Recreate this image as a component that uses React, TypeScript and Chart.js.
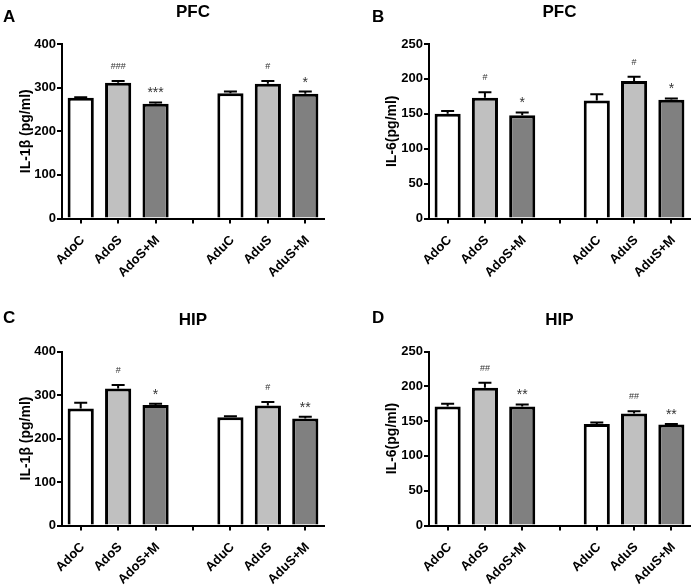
import React, { useEffect, useRef } from 'react';
import { Chart, registerables } from 'chart.js';

Chart.register(...registerables);

const FONT = "'Liberation Sans', Arial, Helvetica, sans-serif";

// groups on the x axis (the empty one is the gap between adolescent and adult)
const categories = ['AdoC', 'AdoS', 'AdoS+M', '', 'AduC', 'AduS', 'AduS+M'];

// A: PFC IL-1β
const pfcIl1b = [277, 311, 263, null, 287, 309, 286];
const pfcIl1bErr = [1, 4, 3, null, 4, 6, 5];
const pfcIl1bSig = ['', '###', '***', '', '', '#', '*'];

// B: PFC IL-6
const pfcIl6 = [150, 173, 148, null, 169, 197, 170];
const pfcIl6Err = [4, 8, 4, null, 9, 6, 2];
const pfcIl6Sig = ['', '#', '*', '', '', '#', '*'];

// C: HIP IL-1β
const hipIl1b = [269, 315, 277, null, 249, 276, 246];
const hipIl1bErr = [13, 8, 3, null, 2, 8, 4];
const hipIl1bSig = ['', '#', '*', '', '', '#', '**'];

// D: HIP IL-6
const hipIl6 = [171, 198, 171, null, 146, 161, 145];
const hipIl6Err = [4, 7, 3, null, 2, 3, 1];
const hipIl6Sig = ['', '##', '**', '', '', '##', '**'];

const il1bTicks = { max: 400, step: 100 };
const il6Ticks = { max: 250, step: 50 };

const barFill = ['#ffffff', '#c0c0c0', '#808080', '#ffffff', '#ffffff', '#c0c0c0', '#808080'];

interface PanelProps {
  left: number;
  top: number;
  width: number;
  height: number;
  area: { left: number; top: number; right: number; bottom: number };
  letter: string;
  letterPos: [number, number];
  title: string;
  titleBase: number;
  yTitle: string;
  yTitleX: number;
  yMax: number;
  yStep: number;
  values: (number | null)[];
  errs: (number | null)[];
  sig: string[];
}

function Panel(p: PanelProps) {
  const canvasRef = useRef<HTMLCanvasElement>(null);

  useEffect(() => {
    if (!canvasRef.current) return;
    const ctx = canvasRef.current.getContext('2d');
    if (!ctx) return;

    // upper error whiskers + significance marks
    const errorBars = {
      id: 'errorBars',
      afterDatasetsDraw(chart: any) {
        const c = chart.ctx;
        const y = chart.scales.y;
        const meta = chart.getDatasetMeta(0);
        c.save();
        p.values.forEach((v, i) => {
          if (v == null) return;
          const e = p.errs[i] || 0;
          const x = meta.data[i].x;
          const yv = y.getPixelForValue(v);
          const ye = y.getPixelForValue(v + e);
          c.strokeStyle = '#000';
          c.lineWidth = 2;
          c.beginPath();
          c.moveTo(x, yv);
          c.lineTo(x, ye);
          c.moveTo(x - 6.5, ye);
          c.lineTo(x + 6.5, ye);
          c.stroke();
          const s = p.sig[i];
          if (s) {
            c.fillStyle = '#333';
            c.textAlign = 'center';
            c.textBaseline = 'alphabetic';
            if (s[0] === '#') {
              c.font = `9px ${FONT}`;
              c.fillText(s, x, ye - 12);
            } else {
              c.font = `14px ${FONT}`;
              c.fillText(s, x, ye - 5);
            }
          }
        });
        c.restore();
      },
    };

    // panel letter and region title
    const panelText = {
      id: 'panelText',
      afterDraw(chart: any) {
        const c = chart.ctx;
        const a = chart.chartArea;
        c.save();
        c.fillStyle = '#000';
        c.font = `bold 17px ${FONT}`;
        c.textBaseline = 'alphabetic';
        c.textAlign = 'left';
        c.fillText(p.letter, p.letterPos[0], p.letterPos[1]);
        c.textAlign = 'center';
        c.fillText(p.title, (a.left + a.right) / 2, p.titleBase);
        c.restore();
      },
    };

    const chart = new Chart(ctx, {
      type: 'bar',
      data: {
        labels: categories,
        datasets: [
          {
            data: p.values,
            backgroundColor: barFill,
            borderColor: '#000',
            borderWidth: 3,
            barPercentage: 0.7,
            categoryPercentage: 1,
          },
        ],
      },
      options: {
        animation: false,
        responsive: true,
        maintainAspectRatio: false,
        layout: {
          padding: { left: 0, top: p.area.top, right: p.width - p.area.right, bottom: 0 },
        },
        plugins: {
          legend: { display: false },
          tooltip: { enabled: false },
          title: { display: false },
        },
        scales: {
          x: {
            grid: {
              display: true,
              drawOnChartArea: false,
              drawTicks: true,
              offset: false,
              tickLength: 5,
              color: '#000',
              lineWidth: 2,
            },
            border: { display: true, color: '#000', width: 2 },
            ticks: {
              autoSkip: false,
              minRotation: 45,
              maxRotation: 45,
              padding: 9,
              labelOffset: 2,
              color: '#000',
              font: { family: FONT, size: 13, weight: 'bold' },
            },
            afterFit: (scale: any) => {
              scale.height = p.height - p.area.bottom;
            },
          },
          y: {
            min: 0,
            max: p.yMax,
            grid: {
              display: true,
              drawOnChartArea: false,
              drawTicks: true,
              tickLength: 5,
              color: '#000',
              lineWidth: 2,
            },
            border: { display: true, color: '#000', width: 2 },
            ticks: {
              stepSize: p.yStep,
              padding: 1,
              color: '#000',
              font: { family: FONT, size: 13, weight: 'bold' },
            },
            title: {
              display: true,
              text: p.yTitle,
              color: '#000',
              font: { family: FONT, size: 14, weight: 'bold' },
              padding: { top: p.yTitleX - 8.4, bottom: 0 },
            },
            afterFit: (scale: any) => {
              scale.width = p.area.left;
            },
          },
        },
      },
      plugins: [errorBars, panelText],
    } as any);

    return () => {
      chart.destroy();
    };
  }, []);

  return (
    <div style={{ position: 'absolute', left: p.left, top: p.top, width: p.width, height: p.height }}>
      <canvas ref={canvasRef} />
    </div>
  );
}

export default function App() {
  return (
    <div style={{ position: 'fixed', left: 0, top: 0, width: 697, height: 586, background: '#fff', overflow: 'hidden' }}>
      <Panel
        left={0}
        top={0}
        width={348}
        height={293}
        area={{ left: 62, top: 44, right: 324, bottom: 218.5 }}
        letter="A"
        letterPos={[3, 22]}
        title="PFC"
        titleBase={17}
        yTitle="IL-1β (pg/ml)"
        yTitleX={26}
        yMax={il1bTicks.max}
        yStep={il1bTicks.step}
        values={pfcIl1b}
        errs={pfcIl1bErr}
        sig={pfcIl1bSig}
      />
      <Panel
        left={348}
        top={0}
        width={349}
        height={293}
        area={{ left: 81, top: 44, right: 342, bottom: 218.5 }}
        letter="B"
        letterPos={[24, 22]}
        title="PFC"
        titleBase={17}
        yTitle="IL-6(pg/ml)"
        yTitleX={44}
        yMax={il6Ticks.max}
        yStep={il6Ticks.step}
        values={pfcIl6}
        errs={pfcIl6Err}
        sig={pfcIl6Sig}
      />
      <Panel
        left={0}
        top={293}
        width={348}
        height={293}
        area={{ left: 62, top: 58.5, right: 324, bottom: 232.5 }}
        letter="C"
        letterPos={[3, 30]}
        title="HIP"
        titleBase={32}
        yTitle="IL-1β (pg/ml)"
        yTitleX={26}
        yMax={il1bTicks.max}
        yStep={il1bTicks.step}
        values={hipIl1b}
        errs={hipIl1bErr}
        sig={hipIl1bSig}
      />
      <Panel
        left={348}
        top={293}
        width={349}
        height={293}
        area={{ left: 81, top: 58.5, right: 342, bottom: 232.5 }}
        letter="D"
        letterPos={[24, 30]}
        title="HIP"
        titleBase={32}
        yTitle="IL-6(pg/ml)"
        yTitleX={44}
        yMax={il6Ticks.max}
        yStep={il6Ticks.step}
        values={hipIl6}
        errs={hipIl6Err}
        sig={hipIl6Sig}
      />
    </div>
  );
}
